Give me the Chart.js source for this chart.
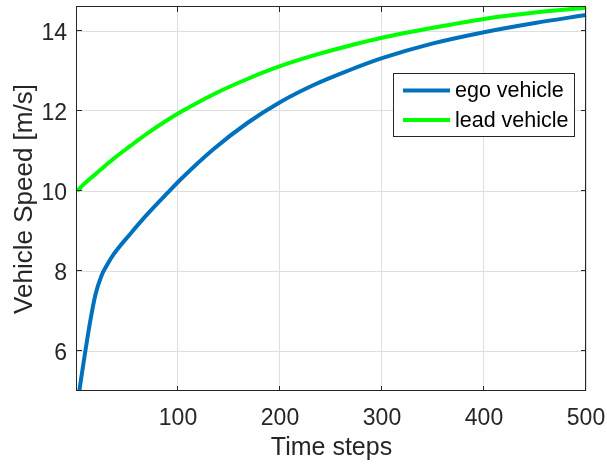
<!DOCTYPE html>
<html>
<head>
<meta charset="utf-8">
<script src="https://cdn.jsdelivr.net/npm/chart.js@4/dist/chart.umd.min.js"></script>
<style>
  html, body { margin: 0; padding: 0; background: #fff; }
</style>
</head>
<body>
<canvas id="speed-chart" width="607" height="464"></canvas>
<script>
// simulation samples
const timeSteps = [1, 3, 5, 9, 14, 19, 25, 30, 37, 53, 70, 90, 103, 135, 168, 200, 233, 266, 300, 350, 400, 450, 500];
const egoSpeed = [4.6, 4.95, 5.3, 5.97, 6.75, 7.4, 7.88, 8.13, 8.42, 8.92, 9.42, 9.96, 10.3, 11.05, 11.7, 12.22, 12.65, 13.0, 13.32, 13.69, 13.97, 14.2, 14.4];
const leadSpeed = [10.0, 10.05, 10.1, 10.2, 10.31, 10.42, 10.55, 10.66, 10.81, 11.12, 11.44, 11.78, 11.98, 12.42, 12.8, 13.12, 13.39, 13.62, 13.83, 14.08, 14.3, 14.46, 14.58];

const xTicks = [100, 200, 300, 400, 500];
const yTicks = [6, 8, 10, 12, 14];

const FONT = "'Liberation Sans', Arial, sans-serif";
const INK = "#262626";

function toPoints(values) {
  return values.map((v, i) => ({ x: timeSteps[i], y: v }));
}

// box around the axes with inward ticks, plus the legend inside the plot
const axesBox = {
  id: "axesBox",
  afterDraw(chart) {
    const { ctx, chartArea: a, scales } = chart;
    const line = (x1, y1, x2, y2) => {
      ctx.beginPath();
      ctx.moveTo(x1, y1);
      ctx.lineTo(x2, y2);
      ctx.stroke();
    };
    ctx.save();
    ctx.strokeStyle = INK;
    ctx.lineWidth = 1;
    ctx.strokeRect(a.left - 0.5, a.top - 0.5, a.right - a.left, a.bottom - a.top);

    const tick = 5;
    xTicks.forEach((v) => {
      const px = Math.round(scales.x.getPixelForValue(v)) - 0.5;
      line(px, a.bottom, px, a.bottom - tick);
      line(px, a.top, px, a.top + tick);
    });
    yTicks.forEach((v) => {
      const py = Math.round(scales.y.getPixelForValue(v)) - 0.5;
      line(a.left, py, a.left + tick, py);
      line(a.right, py, a.right - tick, py);
    });

    // legend
    const bx = a.right - 193, by = a.top + 66, bw = 181, bh = 63;
    ctx.fillStyle = "#fff";
    ctx.fillRect(bx, by, bw, bh);
    ctx.strokeStyle = INK;
    ctx.strokeRect(bx + 0.5, by + 0.5, bw, bh);
    ctx.font = "21.5px " + FONT;
    ctx.textBaseline = "middle";
    chart.data.datasets.forEach((ds, i) => {
      const y = by + 17.5 + i * 29.5;
      ctx.strokeStyle = ds.borderColor;
      ctx.lineWidth = 4;
      line(bx + 10, y, bx + 57, y);
      ctx.fillStyle = "#000";
      ctx.fillText(ds.label, bx + 62, y + 1);
    });
    ctx.restore();
  },
};

new Chart(document.getElementById("speed-chart"), {
  type: "line",
  data: {
    datasets: [
      {
        label: "ego vehicle",
        data: toPoints(egoSpeed),
        borderColor: "#0072BD",
        borderWidth: 4,
        pointRadius: 0,
        cubicInterpolationMode: "monotone",
        clip: { left: 2, top: 3, right: 3, bottom: 0 },
      },
      {
        label: "lead vehicle",
        data: toPoints(leadSpeed),
        borderColor: "#00FF00",
        borderWidth: 4,
        pointRadius: 0,
        cubicInterpolationMode: "monotone",
        clip: { left: 2, top: 3, right: 3, bottom: 0 },
      },
    ],
  },
  options: {
    responsive: false,
    animation: false,
    layout: { padding: { top: 7, right: 21, left: 0, bottom: 0 } },
    plugins: {
      legend: { display: false },
      tooltip: { enabled: false },
    },
    scales: {
      x: {
        type: "linear",
        min: 1,
        max: 500,
        afterBuildTicks: (s) => { s.ticks = xTicks.map((v) => ({ value: v })); },
        afterFit: (s) => { s.height = 73; s.paddingLeft = 0; s.paddingRight = 0; },
        grid: { color: "#dfdfdf", drawTicks: false },
        border: { display: false },
        ticks: { color: INK, font: { family: FONT, size: 23 }, padding: 14, maxRotation: 0 },
        title: {
          display: true,
          text: "Time steps",
          color: INK,
          font: { family: FONT, size: 25 },
          padding: { top: 0, bottom: 1 },
        },
      },
      y: {
        min: 5,
        max: 14.6,
        afterBuildTicks: (s) => { s.ticks = yTicks.map((v) => ({ value: v })); },
        afterFit: (s) => { s.width = 77; s.paddingTop = 0; s.paddingBottom = 0; },
        grid: { color: "#dfdfdf", drawTicks: false },
        border: { display: false },
        ticks: { color: INK, font: { family: FONT, size: 23 }, padding: 10, labelOffset: 3 },
        title: {
          display: true,
          text: "Vehicle Speed [m/s]",
          color: INK,
          font: { family: FONT, size: 26 },
          padding: { top: 9, bottom: 0 },
        },
      },
    },
  },
  plugins: [axesBox],
});
</script>
</body>
</html>
